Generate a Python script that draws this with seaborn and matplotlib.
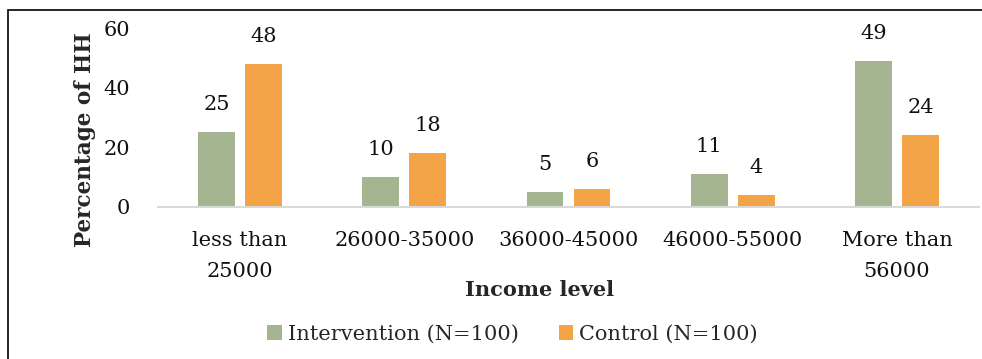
import matplotlib
matplotlib.use("Agg")
import matplotlib.pyplot as plt
from matplotlib.patches import Rectangle
import seaborn as sns
import pandas as pd

# Household income distribution, intervention vs control
income_levels = ["less than\n25000", "26000-35000", "36000-45000", "46000-55000", "More than\n56000"]
intervention = [25, 10, 5, 11, 49]
control = [48, 18, 6, 4, 24]
groups = ["Intervention (N=100)", "Control (N=100)"]
colors = ["#A5B592", "#F3A447"]

df = pd.DataFrame({
    "Income level": income_levels * 2,
    "Percentage": intervention + control,
    "Group": [groups[0]] * len(income_levels) + [groups[1]] * len(income_levels),
})

sns.set_style("white")
plt.rcParams["font.family"] = ["DejaVu Serif"]

fig = plt.figure(figsize=(9.82, 3.59), dpi=100)
ax = fig.add_axes([158 / 982, 152 / 359, (979 - 158) / 982, 179 / 359])

sns.barplot(data=df, x="Income level", y="Percentage", hue="Group",
            palette=colors, width=0.572, gap=0.213, ax=ax, saturation=1,
            edgecolor="none", legend=True)

ax.set_xlim(-0.5, len(income_levels) - 0.5)
ax.set_ylim(0, 60)
ax.set_yticks([0, 20, 40, 60])
ax.tick_params(axis="both", length=0, labelsize=15, colors="#111111")
ax.tick_params(axis="y", pad=20)
ax.tick_params(axis="x", pad=17)
for lbl in ax.get_xticklabels():
    lbl.set_linespacing(1.85)

for spine in ["top", "right", "left"]:
    ax.spines[spine].set_visible(False)
ax.spines["bottom"].set_color("#d9d9d9")
ax.spines["bottom"].set_linewidth(1.5)

for cont in ax.containers:
    ax.bar_label(cont, fmt="%d", padding=13, fontsize=15, color="#111111")

ax.set_xlabel("Income level", fontsize=15, fontweight="bold", labelpad=0)
ax.set_ylabel("Percentage of HH", fontsize=15.5, fontweight="bold")
ax.xaxis.set_label_coords(0.465, -0.465)
ax.yaxis.set_label_coords(-0.089, 0.374)
ax.xaxis.label.set_verticalalignment("center")
ax.yaxis.label.set_verticalalignment("center")
ax.xaxis.set_label_coords(0.465, -0.465)

leg = ax.legend(loc="center", bbox_to_anchor=(0.432, -0.71), ncol=2, frameon=False,
                fontsize=15, handlelength=0.7, handleheight=0.7, handletextpad=0.3,
                columnspacing=1.9)

# Outer frame around the figure
fig.patches.append(Rectangle((8 / 982, -0.05), 1.2, 1 - 10 / 359 + 0.05,
                             transform=fig.transFigure, fill=False,
                             edgecolor="black", linewidth=1.2))

fig.savefig("out.png", dpi=100)
